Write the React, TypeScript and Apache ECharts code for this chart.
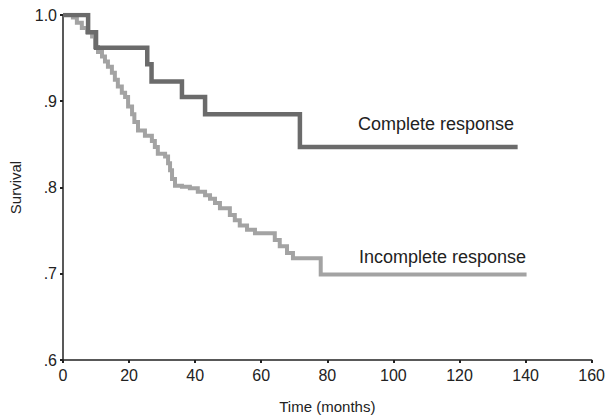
import React, { useEffect, useRef } from "react";
import * as echarts from "echarts";

// Kaplan-Meier step data: [time (months), survival]
const completeTimes = [0, 7.6, 10.0, 25.5, 26.8, 36.0, 43.0, 71.7, 137.6];
const completeSurvival = [1.0, 0.98, 0.962, 0.943, 0.923, 0.905, 0.885, 0.847, 0.847];

const incompleteTimes = [
  0, 3.0, 4.2, 5.7, 7.3, 8.8, 9.7, 10.6, 11.8, 12.7, 13.6, 14.8, 15.7, 16.6, 17.8,
  18.8, 19.7, 20.9, 21.6, 22.7, 24.8, 26.9, 27.8, 28.7, 30.9, 31.8, 32.4, 33.0,
  33.9, 36.0, 38.4, 40.8, 43.0, 44.5, 46.0, 47.5, 50.5, 52.0, 53.5, 55.7, 58.1,
  64.1, 65.6, 67.8, 69.6, 78.0, 140.3,
];
const incompleteSurvival = [
  1.0, 0.997, 0.991, 0.985, 0.98, 0.975, 0.963, 0.957, 0.952, 0.946, 0.94, 0.933,
  0.925, 0.917, 0.91, 0.905, 0.894, 0.885, 0.876, 0.866, 0.86, 0.854, 0.847, 0.839,
  0.836, 0.828, 0.82, 0.81, 0.802, 0.801, 0.799, 0.795, 0.791, 0.787, 0.782, 0.776,
  0.768, 0.762, 0.756, 0.751, 0.747, 0.739, 0.732, 0.724, 0.718, 0.699, 0.699,
];

const xTicks = [0, 20, 40, 60, 80, 100, 120, 140, 160];
const yTickLabels = [".6", ".7", ".8", ".9", "1.0"];
const seriesNames = ["Complete response", "Incomplete response"];

const FONT = "'Liberation Sans', Arial, sans-serif";

export default function App() {
  const ref = useRef<HTMLDivElement>(null);

  useEffect(() => {
    if (!ref.current) return;
    const chart = echarts.init(ref.current, undefined, { renderer: "svg" });
    const completeData = completeTimes.map((t, i) => [t, completeSurvival[i]]);
    const incompleteData = incompleteTimes.map((t, i) => [t, incompleteSurvival[i]]);

    chart.setOption({
      animation: false,
      backgroundColor: "#ffffff",
      grid: { left: 63, right: 16, top: 15, bottom: 56 },
      xAxis: {
        type: "value",
        min: xTicks[0],
        max: xTicks[xTicks.length - 1],
        interval: 20,
        name: "Time (months)",
        nameLocation: "middle",
        nameGap: 39,
        nameTextStyle: { fontFamily: FONT, fontSize: 15, color: "#222" },
        axisLine: { lineStyle: { color: "#222", width: 1.5 } },
        axisTick: { show: true, length: 3, lineStyle: { color: "#222", width: 2 } },
        axisLabel: { fontFamily: FONT, fontSize: 16, color: "#222", margin: 7 },
        splitLine: { show: false },
      },
      yAxis: {
        type: "value",
        min: 0.6,
        max: 1.0,
        interval: 0.1,
        name: "Survival",
        nameLocation: "middle",
        nameGap: 40,
        nameTextStyle: { fontFamily: FONT, fontSize: 15, color: "#222" },
        axisLine: { show: true, lineStyle: { color: "#222", width: 1.5 } },
        axisTick: { show: true, length: 3, lineStyle: { color: "#222", width: 2 } },
        axisLabel: {
          fontFamily: FONT,
          fontSize: 16,
          color: "#222",
          margin: 6,
          formatter: (v: number) => yTickLabels[Math.round((v - 0.6) * 10)] ?? "",
        },
        splitLine: { show: false },
      },
      series: [
        {
          name: seriesNames[0],
          type: "line",
          step: "end",
          symbol: "none",
          data: completeData,
          lineStyle: { color: "#6b6b6b", width: 4.5, join: "miter", cap: "butt" },
          z: 3,
        },
        {
          name: seriesNames[1],
          type: "line",
          step: "end",
          symbol: "none",
          data: incompleteData,
          lineStyle: { color: "#a3a3a3", width: 4, join: "miter", cap: "butt" },
          z: 2,
        },
      ],
      graphic: [
        {
          type: "text",
          left: 358,
          top: 115,
          style: { text: seriesNames[0], fontFamily: FONT, fontSize: 18, fill: "#222" },
        },
        {
          type: "text",
          left: 359,
          top: 248,
          style: { text: seriesNames[1], fontFamily: FONT, fontSize: 18, fill: "#222" },
        },
      ],
    });
    return () => chart.dispose();
  }, []);

  return (
    <div
      ref={ref}
      style={{ position: "absolute", left: 0, top: 0, width: 608, height: 419 }}
    />
  );
}
